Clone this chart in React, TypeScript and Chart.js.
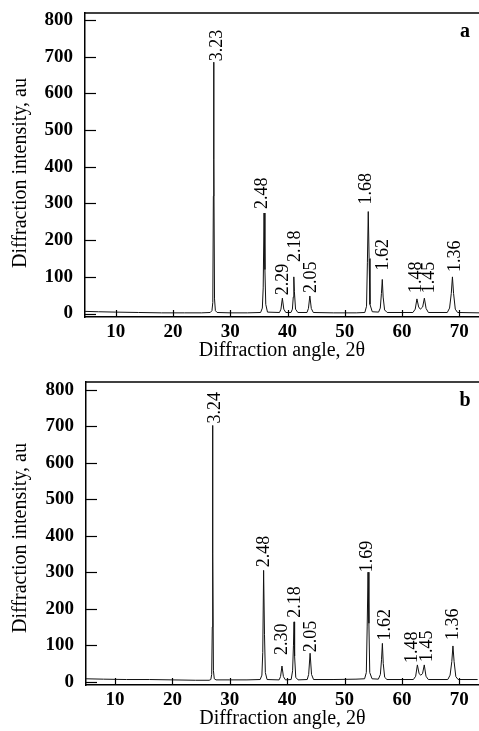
import React, { useEffect, useRef } from "react";
import { Chart, registerables } from "chart.js";

Chart.register(...registerables);

// ---------- shared tick values ----------
const xTickValues = [10, 20, 30, 40, 50, 60, 70];
const yTickValues = [0, 100, 200, 300, 400, 500, 600, 700, 800];

// ---------- panel a : diffraction pattern ----------
const anglesA = [
  4.63, 7, 10, 14, 18, 22, 25,
  26.5, 26.8, 26.95, 27.05, 27.1, 27.15, 27.25, 27.4, 27.7,
  30, 33, 35.3,
  35.6, 35.75, 35.9, 36.05, 36.2, 36.5,
  38.6, 38.85, 39.1, 39.35, 39.7,
  40.6, 40.85, 41.0, 41.1, 41.2, 41.4, 41.8,
  43.4, 43.65, 43.9, 44.15, 44.5,
  48, 52, 53.5,
  53.8, 53.95, 54.1, 54.25, 54.4, 54.8,
  55.9, 56.2, 56.4, 56.55, 56.7, 56.95, 57.4,
  61.9, 62.3, 62.6, 62.9, 63.2, 63.6, 63.9, 64.2, 64.6,
  67.9, 68.3, 68.6, 68.8, 69.0, 69.3, 69.7, 73.44,
];
const intensityA = [
  6, 5, 4, 3, 2, 2, 2,
  3, 8, 30, 320, 685, 420, 40, 8, 3,
  2, 2, 3,
  15, 70, 274, 120, 25, 4,
  3, 12, 42, 12, 3,
  3, 12, 45, 100, 60, 12, 3,
  3, 14, 48, 14, 3,
  2, 2, 3,
  20, 140, 278, 150, 25, 5,
  4, 15, 55, 93, 45, 10, 3,
  3, 12, 40, 18, 12, 18, 42, 14, 3,
  3, 15, 55, 100, 55, 12, 3, 2,
];
const peakLabelsA = ["3.23", "2.48", "2.29", "2.18", "2.05", "1.68", "1.62", "1.48", "1.45", "1.36"];
const peakAnglesA = [27.1, 35.9, 39.1, 41.1, 43.9, 54.1, 56.55, 62.6, 63.9, 68.8];
const peakHeightsA = [685, 274, 42, 100, 48, 278, 93, 40, 42, 100];

// ---------- panel b : diffraction pattern ----------
const anglesB = [
  4.94, 8, 12, 16, 20, 24,
  26.4, 26.7, 26.85, 26.95, 27.0, 27.05, 27.15, 27.3, 27.6,
  30, 33, 35.3,
  35.6, 35.75, 35.9, 36.05, 36.2, 36.5,
  38.6, 38.85, 39.1, 39.35, 39.7,
  40.7, 40.95, 41.1, 41.2, 41.3, 41.5, 41.9,
  43.5, 43.75, 44.0, 44.25, 44.6,
  48, 52, 53.5,
  53.8, 53.95, 54.1, 54.25, 54.4, 54.8,
  55.9, 56.25, 56.45, 56.6, 56.75, 57.0, 57.4,
  62.0, 62.4, 62.7, 63.0, 63.3, 63.6, 63.9, 64.2, 64.6,
  68.0, 68.4, 68.7, 68.9, 69.1, 69.4, 69.8, 73.2,
];
const intensityB = [
  8, 7, 6, 6, 5, 4,
  4, 6, 20, 150, 702, 350, 30, 8, 5,
  5, 5, 6,
  18, 80, 305, 130, 25, 6,
  5, 14, 43, 14, 5,
  6, 30, 100, 164, 70, 12, 5,
  6, 20, 78, 20, 6,
  6, 7, 8,
  25, 150, 300, 160, 25, 8,
  7, 20, 60, 105, 50, 12, 6,
  6, 15, 46, 22, 18, 22, 46, 15, 6,
  6, 18, 55, 98, 55, 14, 6, 6,
];
const peakLabelsB = ["3.24", "2.48", "2.30", "2.18", "2.05", "1.69", "1.62", "1.48", "1.45", "1.36"];
const peakAnglesB = [27.0, 35.9, 39.1, 41.2, 44.0, 54.1, 56.6, 62.7, 63.9, 68.9];
const peakHeightsB = [702, 305, 43, 164, 78, 300, 105, 46, 46, 98];

// ---------- layout (pixel offsets of the peak annotations) ----------
const labelDxA = [4, -2, 1, 1, 1, -2, 1, -1, 5, 3];
const labelGapA = [1, 4, 3, 15, 3, 7, 9, 6, 5, 5];
const labelDxB = [3, 1, 0, 1, 1, -1, 3, -5, 3, 0];
const labelGapB = [2, 3, 11, 4, 1, 0, 3, 2, 3, 6];

const SERIF = '"Liberation Serif", "Times New Roman", serif';

const decorPlugin = {
  id: "panelDecor",
  afterDatasetsDraw(chart: any, _args: any, opts: any) {
    const { ctx, chartArea: ca, scales } = chart;
    const x = scales.x;
    const y = scales.y;
    ctx.save();
    ctx.strokeStyle = "#000";
    ctx.fillStyle = "#000";
    // top frame line
    ctx.lineWidth = 1.5;
    ctx.beginPath();
    ctx.moveTo(ca.left, ca.top);
    ctx.lineTo(ca.right, ca.top);
    ctx.stroke();
    // inward tick marks
    ctx.lineWidth = 1.2;
    yTickValues.forEach((v) => {
      const py = Math.round(y.getPixelForValue(v)) + 0.5;
      ctx.beginPath();
      ctx.moveTo(ca.left, py);
      ctx.lineTo(ca.left + 11, py);
      ctx.stroke();
    });
    xTickValues.forEach((v) => {
      const px = Math.round(x.getPixelForValue(v)) + 0.5;
      ctx.beginPath();
      ctx.moveTo(px, ca.bottom);
      ctx.lineTo(px, ca.bottom - 7);
      ctx.stroke();
    });
    // peak annotations (rotated)
    ctx.font = `18px ${SERIF}`;
    ctx.textAlign = "left";
    ctx.textBaseline = "middle";
    opts.labels.forEach((t: string, i: number) => {
      const px = x.getPixelForValue(opts.angles[i]) + opts.dx[i];
      const py = y.getPixelForValue(opts.heights[i]) - opts.gap[i];
      ctx.save();
      ctx.translate(px, py);
      ctx.rotate(-Math.PI / 2);
      ctx.fillText(t, 0, 0);
      ctx.restore();
    });
    // panel letter
    ctx.font = `bold 20px ${SERIF}`;
    ctx.textAlign = "center";
    ctx.textBaseline = "alphabetic";
    ctx.fillText(opts.letter, ca.right - 14, ca.top + 24);
    // axis titles
    ctx.font = `20px ${SERIF}`;
    ctx.textAlign = "center";
    ctx.textBaseline = "middle";
    ctx.fillText("Diffraction angle, 2\u03b8", (ca.left + ca.right) / 2, ca.bottom + 34);
    ctx.save();
    ctx.translate(21, opts.yTitleY);
    ctx.rotate(-Math.PI / 2);
    ctx.fillText("Diffraction intensity, au", 0, 0);
    ctx.restore();
    ctx.restore();
  },
};

type PanelProps = {
  angles: number[];
  intensity: number[];
  labels: string[];
  peakAngles: number[];
  peakHeights: number[];
  dx: number[];
  gap: number[];
  letter: string;
  xMin: number;
  xMax: number;
  yMin: number;
  yMax: number;
  padTop: number;
  yAxisW: number;
  xAxisH: number;
  yTitleY: number;
  height: number;
};

function Panel(p: PanelProps) {
  const ref = useRef<HTMLCanvasElement | null>(null);
  useEffect(() => {
    if (!ref.current) return;
    const tickFont = { family: SERIF, size: 19, weight: "bold" as const };
    const chart = new Chart(ref.current, {
      type: "line",
      data: {
        datasets: [
          {
            data: p.angles.map((a, i) => ({ x: a, y: p.intensity[i] })),
            borderColor: "#111",
            borderWidth: 1,
            pointRadius: 0,
            tension: 0,
            fill: false,
          },
        ],
      },
      options: {
        animation: false,
        responsive: false,
        devicePixelRatio: 1,
        events: [],
        layout: { padding: { top: p.padTop, left: 0, right: 0, bottom: 0 } },
        plugins: {
          legend: { display: false },
          tooltip: { enabled: false },
          title: { display: false },
          // @ts-ignore
          panelDecor: {
            labels: p.labels,
            angles: p.peakAngles,
            heights: p.peakHeights,
            dx: p.dx,
            gap: p.gap,
            letter: p.letter,
            yTitleY: p.yTitleY,
          },
        },
        scales: {
          x: {
            type: "linear",
            min: p.xMin,
            max: p.xMax,
            afterBuildTicks: (s: any) => {
              s.ticks = xTickValues.map((v) => ({ value: v }));
            },
            afterFit: (s: any) => {
              s.height = p.xAxisH;
            },
            grid: { display: false, drawTicks: true, tickLength: 4 },
            border: { display: true, color: "#000", width: 1.5 },
            ticks: { color: "#000", padding: 0, font: tickFont, maxRotation: 0, autoSkip: false },
          },
          y: {
            type: "linear",
            min: p.yMin,
            max: p.yMax,
            afterBuildTicks: (s: any) => {
              s.ticks = yTickValues.map((v) => ({ value: v }));
            },
            afterFit: (s: any) => {
              s.width = p.yAxisW;
            },
            grid: { display: false, drawTicks: true, tickLength: 12 },
            border: { display: true, color: "#000", width: 1.5 },
            ticks: { color: "#000", padding: 0, font: tickFont, autoSkip: false },
          },
        },
      },
      plugins: [decorPlugin as any],
    });
    return () => chart.destroy();
  }, []);
  return <canvas ref={ref} width={479} height={p.height} style={{ display: "block" }} />;
}

export default function App() {
  return (
    <div style={{ position: "absolute", left: 0, top: 0, width: 479, height: 731, background: "#fff" }}>
      <Panel
        angles={anglesA}
        intensity={intensityA}
        labels={peakLabelsA}
        peakAngles={peakAnglesA}
        peakHeights={peakHeightsA}
        dx={labelDxA}
        gap={labelGapA}
        letter="a"
        xMin={4.63}
        xMax={73.44}
        yMin={-9.3}
        yMax={819}
        padTop={13}
        yAxisW={85}
        xAxisH={48}
        yTitleY={173}
        height={365}
      />
      <Panel
        angles={anglesB}
        intensity={intensityB}
        labels={peakLabelsB}
        peakAngles={peakAnglesB}
        peakHeights={peakHeightsB}
        dx={labelDxB}
        gap={labelGapB}
        letter="b"
        xMin={4.94}
        xMax={73.44}
        yMin={-9}
        yMax={821}
        padTop={17}
        yAxisW={86}
        xAxisH={46}
        yTitleY={173}
        height={366}
      />
    </div>
  );
}
